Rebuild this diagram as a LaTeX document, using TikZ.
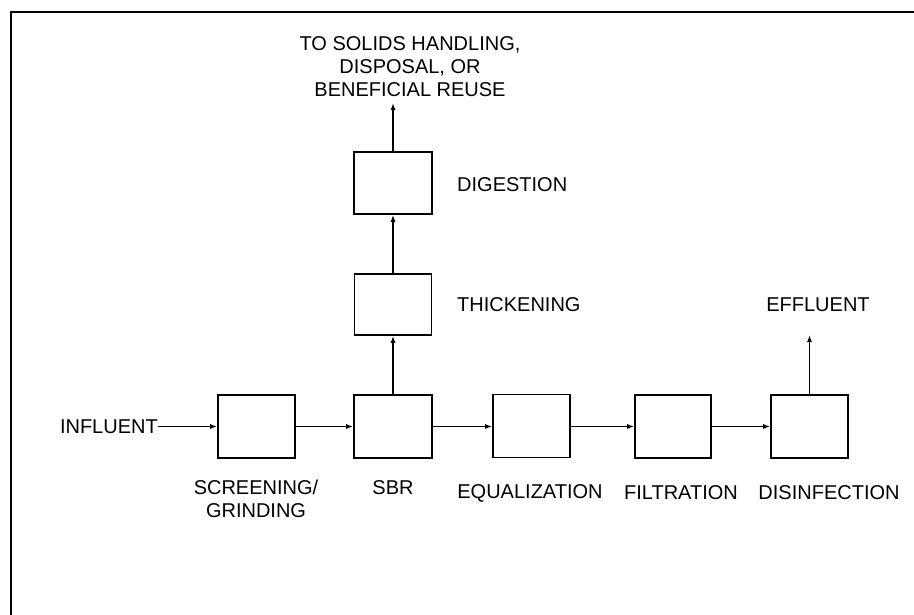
\documentclass[tikz,border=0pt]{standalone}
\usepackage{fontspec}
\setmainfont{Liberation Sans}
\usetikzlibrary{arrows.meta}
\begin{document}
\begin{tikzpicture}[x=1pt,y=-1pt,
  procbox/.style={draw,line width=1.6pt,minimum width=77pt,minimum height=63pt,inner sep=0pt},
  lbl/.style={inner sep=0pt,font=\fontsize{20pt}{23pt}\selectfont,align=center},
  flow/.style={line width=1.3pt,-{Latex[length=7pt,width=5pt]}}]
\useasboundingbox (0,0) rectangle (914,614);
\draw[line width=2.2pt] (11,616) -- (11,12) -- (916,12);
% boxes
\node[procbox] (scr) at (256.5,426.5) {};
\node[procbox,minimum width=78pt] (sbr) at (393,426.5) {};
\node[procbox] (equ) at (531.5,426) {};
\node[procbox,minimum width=76pt] (fil) at (673,426.5) {};
\node[procbox] (dis) at (809.5,426.5) {};
\node[procbox,minimum height=61pt] (thk) at (393,304.5) {};
\node[procbox,minimum width=78pt,minimum height=62pt] (dig) at (393,183) {};
% labels
\node[lbl,anchor=east] (inf) at (158,426.5) {INFLUENT};
\node[lbl] (lscr) at (256,499) {SCREENING/\\GRINDING};
\node[lbl] (lsbr) at (393,488) {SBR};
\node[lbl] (lequ) at (530,493) {EQUALIZATION};
\node[lbl] (lfil) at (681,493) {FILTRATION};
\node[lbl] (ldis) at (829,493) {DISINFECTION};
\node[lbl,anchor=west] (lthk) at (457,305) {THICKENING};
\node[lbl,anchor=west] (ldig) at (457,185) {DIGESTION};
\node[lbl] (leff) at (818,305) {EFFLUENT};
\node[lbl] (ltop) at (410,67) {TO SOLIDS HANDLING,\\DISPOSAL, OR\\BENEFICIAL REUSE};
\coordinate (topend) at (393,103);
\coordinate (effend) at (809.5,335);
% connectors
\draw[flow] (inf.east |- scr.west) -- (scr.west);
\draw[flow] (scr.east) -- (sbr.west);
\draw[flow] (sbr.east) -- (equ.west |- sbr.east);
\draw[flow] (equ.east |- fil.west) -- (fil.west);
\draw[flow] (fil.east) -- (dis.west);
\draw[flow] (sbr.north) -- (thk.south);
\draw[flow] (thk.north) -- (dig.south);
\draw[flow] (dig.north) -- (topend);
\draw[flow] (dis.north) -- (effend);
\end{tikzpicture}
\end{document}
